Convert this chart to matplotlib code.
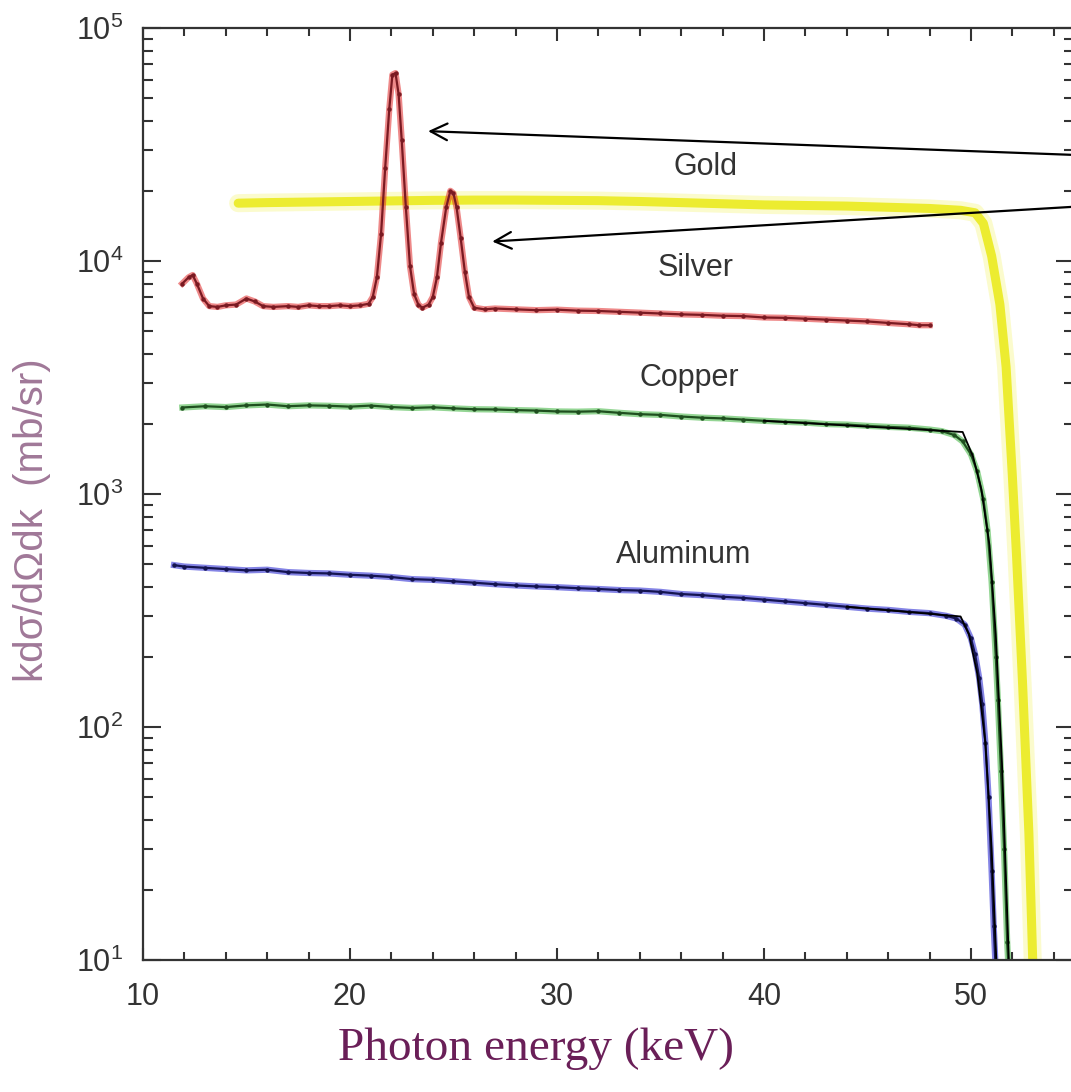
import numpy as np
import matplotlib.pyplot as plt
from matplotlib.ticker import FixedLocator, LogLocator, FuncFormatter, NullFormatter

plt.rcParams['font.family'] = ['Liberation Sans', 'DejaVu Sans']
plt.rcParams['mathtext.fontset'] = 'custom'
plt.rcParams['mathtext.rm'] = 'Liberation Sans'

# Silver spectrum (keV, mb/sr)
ag_e = [11.9, 12.2, 12.4, 12.6, 12.9, 13.2, 13.6, 14.0, 14.5, 15.0, 15.4, 15.8, 16.3, 17.0,
        17.5, 18.0, 18.5, 19.0, 19.5, 20.0, 20.5, 20.9, 21.1, 21.3, 21.5, 21.7, 21.9, 22.05,
        22.2, 22.35, 22.5, 22.7, 22.9, 23.1, 23.3, 23.5, 23.8, 24.0, 24.2, 24.4, 24.65, 24.85,
        25.0, 25.15, 25.35, 25.55, 25.75, 26.0, 26.5, 27, 28, 29, 30, 31, 32, 33, 34, 35, 36,
        37, 38, 39, 40, 41, 42, 43, 44, 45, 46, 47, 47.5, 48.0]
ag_v = [8000, 8500, 8700, 8000, 6900, 6400, 6350, 6450, 6500, 6900, 6700, 6400, 6350, 6400,
        6350, 6450, 6400, 6400, 6450, 6400, 6450, 6550, 7000, 8500, 13000, 25000, 45000, 63000,
        64000, 52000, 33000, 17000, 9500, 7200, 6500, 6300, 6500, 7000, 8500, 12000, 17000, 20000,
        19500, 17000, 12500, 9000, 7000, 6300, 6200, 6250, 6200, 6150, 6180, 6120, 6100, 6050,
        6000, 5950, 5900, 5870, 5820, 5800, 5720, 5700, 5650, 5600, 5550, 5500, 5420, 5350,
        5300, 5300]

# Gold spectrum
au_e = [14.6, 16, 18, 20, 22, 24, 26, 28, 30, 32, 34, 36, 38, 40, 42, 44, 46, 48, 49.5,
        50.2, 50.6, 51.0, 51.4, 51.7, 52.0, 52.2, 52.5, 52.8, 53.0]
au_v = [17700, 17800, 17900, 18000, 18100, 18200, 18250, 18250, 18200, 18150, 18000, 17800,
        17600, 17400, 17300, 17200, 17000, 16800, 16500, 16100, 14500, 10500, 6500, 3500, 1200,
        550, 150, 35, 9]

# Copper spectrum
cu_e = [11.9, 13, 14, 15, 16, 17, 18, 19, 20, 21, 22, 23, 24, 25, 26, 27, 28, 29, 30, 31,
        32, 33, 34, 35, 36, 37, 38, 39, 40, 41, 42, 43, 44, 45, 46, 47, 48, 48.6, 49.2, 49.6,
        50.0, 50.3, 50.6, 50.8, 51.0, 51.2, 51.3, 51.45, 51.6, 51.75, 51.82]
cu_v = [2350, 2380, 2360, 2400, 2420, 2380, 2400, 2390, 2370, 2395, 2360, 2340, 2355, 2330,
        2310, 2305, 2290, 2280, 2260, 2255, 2265, 2230, 2200, 2185, 2150, 2125, 2110, 2085,
        2060, 2040, 2025, 1995, 1985, 1960, 1940, 1925, 1890, 1860, 1790, 1680, 1480, 1250, 950,
        700, 420, 200, 131, 65, 30, 12, 9]
cu_fit_e = [40, 49.6, 50.1, 50.5, 50.9, 51.2, 51.5, 51.85]
cu_fit_v = [2060, 1845, 1450, 1050, 600, 250, 70, 9]

# Aluminum spectrum
al_e = [11.5, 12, 13, 14, 15, 16, 17, 18, 19, 20, 21, 22, 23, 24, 25, 26, 27, 28, 29, 30,
        31, 32, 33, 34, 35, 36, 37, 38, 39, 40, 41, 42, 43, 44, 45, 46, 47, 48, 48.8, 49.3,
        49.7, 50.0, 50.2, 50.4, 50.55, 50.7, 50.85, 51.0, 51.1, 51.2]
al_v = [495, 488, 482, 476, 470, 473, 462, 458, 456, 450, 446, 440, 431, 428, 422, 416, 410,
        405, 401, 398, 394, 391, 387, 385, 380, 372, 368, 362, 358, 352, 346, 340, 334, 328,
        322, 318, 312, 308, 300, 292, 275, 240, 205, 162, 125, 85, 50, 24, 14, 9]
al_fit_e = [44, 49.5, 49.9, 50.3, 50.7, 51.0, 51.25]
al_fit_v = [328, 298, 250, 170, 85, 30, 9]

labels = ['Gold', 'Silver', 'Copper', 'Aluminum']
label_x = [37.2, 36.7, 36.4, 36.1]
label_y = [25300, 9330, 3150, 547]

fig = plt.figure(figsize=(10.71, 10.92), dpi=100)
ax = fig.add_axes([0.1335, 0.1209, 0.8697, 0.8535])

# gold: thick yellow band
ax.plot(au_e, au_v, color='#f4f470', lw=13, alpha=0.35, solid_capstyle='round')
ax.plot(au_e, au_v, color='#ecec30', lw=6.5, solid_capstyle='round')

# coloured halo + dark core for the other spectra
for e, v, halo, core in [(ag_e, ag_v, '#e02828', '#7a1a22'),
                         (cu_e, cu_v, '#3cb43c', '#1f4f1f'),
                         (al_e, al_v, '#2020d0', '#141450')]:
    ax.plot(e, v, color=halo, lw=4.5, alpha=0.55)
    ax.plot(e, v, color=core, lw=1.6, marker='o', ms=2.2)

ax.plot(cu_fit_e, cu_fit_v, color='black', lw=1.3)
ax.plot(al_fit_e, al_fit_v, color='black', lw=1.3)

for t, x, y in zip(labels, label_x, label_y):
    ax.text(x, y, t, fontsize=22, color='#333333', ha='center', va='center')

# arrows to the silver K lines
ax.annotate('', xy=(23.64, 36100), xytext=(56, 28300),
            arrowprops=dict(arrowstyle='->', color='black', lw=1.6, mutation_scale=30),
            annotation_clip=False)
ax.annotate('', xy=(26.74, 12100), xytext=(56, 17300),
            arrowprops=dict(arrowstyle='->', color='black', lw=1.6, mutation_scale=30),
            annotation_clip=False)

ax.set_yscale('log')
ax.set_xlim(10, 55)
ax.set_ylim(10, 1e5)

ax.xaxis.set_major_locator(FixedLocator([10, 20, 30, 40, 50]))
ax.xaxis.set_minor_locator(FixedLocator(np.arange(10, 56, 2)))
ax.yaxis.set_major_locator(LogLocator(base=10, numticks=10))
ax.yaxis.set_minor_locator(LogLocator(base=10, subs=np.arange(2, 10), numticks=10))
ax.yaxis.set_minor_formatter(NullFormatter())
ax.yaxis.set_major_formatter(FuncFormatter(lambda v, p: r'$\mathregular{10^{%d}}$' % round(np.log10(v))))

ax.tick_params(axis='both', which='both', direction='in', top=True, right=True,
               colors='#333333', labelsize=22, width=1.5)
ax.tick_params(axis='x', which='major', length=9, pad=16)
ax.tick_params(axis='x', which='minor', length=6)
ax.tick_params(axis='y', which='major', length=13, pad=14)
ax.tick_params(axis='y', which='minor', length=7)
for s in ax.spines.values():
    s.set_color('#333333')
    s.set_linewidth(1.6)

fig.text(0.03, 0.524, 'kdσ/dΩdk  (mb/sr)', rotation=90, fontsize=29, color='#a07898',
         ha='center', va='center')
fig.text(0.5, 0.04, 'Photon energy (keV)', family=['Liberation Serif', 'DejaVu Serif'],
         fontsize=34, color='#6a1f58', ha='center', va='center')

fig.savefig('out.png', dpi=100)
